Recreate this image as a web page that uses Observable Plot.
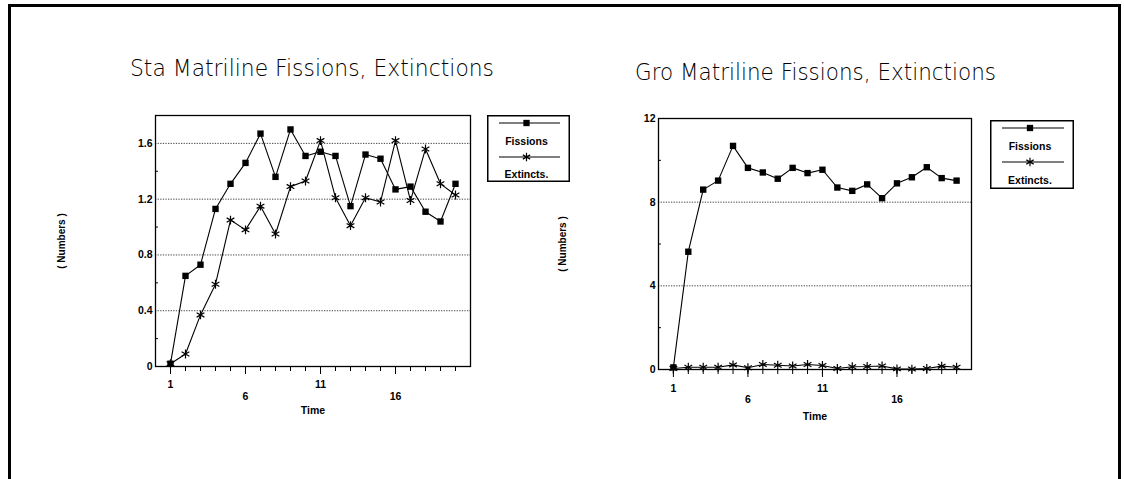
<!DOCTYPE html>
<html><head><meta charset="utf-8">
<script src="https://cdn.jsdelivr.net/npm/d3@7"></script>
<script src="https://cdn.jsdelivr.net/npm/@observablehq/plot@0.6"></script>
<style>
html,body{margin:0;padding:0;background:#fff;}
#page{position:relative;width:1124px;height:479px;overflow:hidden;background:#fff;}
#border{position:absolute;left:8px;top:4px;width:1113px;height:520px;border:3px solid #000;border-bottom:none;box-sizing:border-box;}
.abs{position:absolute;overflow:visible;}
</style></head><body>
<div id="page"><div id="border"></div></div>
<script>
// ---- data ----
const time = [1,2,3,4,5,6,7,8,9,10,11,12,13,14,15,16,17,18,19,20];
const staFissions = [0.02,0.65,0.73,1.13,1.31,1.46,1.67,1.36,1.70,1.51,1.54,1.51,1.15,1.52,1.49,1.27,1.29,1.11,1.04,1.31];
const staExtincts = [0.02,0.09,0.37,0.59,1.05,0.98,1.15,0.95,1.29,1.33,1.62,1.21,1.01,1.21,1.18,1.62,1.19,1.56,1.31,1.23];
const groFissions = [0.10,5.63,8.60,9.03,10.69,9.64,9.42,9.12,9.64,9.39,9.55,8.70,8.54,8.85,8.19,8.90,9.19,9.67,9.15,9.03];
const groExtincts = [0.05,0.11,0.11,0.11,0.22,0.08,0.24,0.20,0.17,0.24,0.19,0.05,0.13,0.14,0.17,0.03,0.02,0.05,0.16,0.11];
const seriesNames = ["Fissions","Extincts."];
const titles = ["Sta Matriline Fissions, Extinctions","Gro Matriline Fissions, Extinctions"];
const staYTicks = [0,0.4,0.8,1.2,1.6];
const staYMinor = [0.2,0.6,1.0,1.4];
const groYTicks = [0,4,8,12];
const groYMinor = [2,6,10];
const staGrid = [0.4,0.8,1.2,1.6];
const groGrid = [4,8];
const xLabelsHigh = [1,11];
const xLabelsLow = [6,16];
const yLabel = "( Numbers )";
const xLabel = "Time";

const page = document.getElementById("page");
const FONT = '"Liberation Sans Narrow","Liberation Sans",Arial,sans-serif';

function chart(o){
  const fisRows = time.map((t,i)=>({t, v:o.fis[i], s:seriesNames[0]}));
  const extRows = time.map((t,i)=>({t, v:o.ext[i], s:seriesNames[1]}));
  const p = Plot.plot({
    width: o.mL + o.innerW + 5,
    height: o.mT + o.innerH + 60,
    marginLeft: o.mL, marginRight: 5, marginTop: o.mT, marginBottom: 60,
    x: {domain:[0,21]},
    y: {domain:[0,o.yMax]},
    style: {fontFamily: FONT, fontSize: "10.5px", color:"#000", background:"transparent", overflow:"visible"},
    marks: [
      Plot.ruleY(o.grid, {stroke:"#444", strokeDasharray:"1.3,1.3", strokeWidth:1}),
      Plot.ruleY(o.yMinor, {x1:0, x2:0.2, stroke:"#000", strokeWidth:1}),
      Plot.frame({stroke:"#000", strokeWidth:1.3}),
      Plot.axisY(o.yTicks, {tickSize:0, tickPadding:3, label:null, fontWeight:"bold", tickFormat:d=>String(d)}),
      Plot.axisY([], {label:yLabel, labelAnchor:"center", labelOffset:o.numOffset, labelArrow:"none", fontWeight:"bold", fontSize:10}),
      Plot.axisX(time, {tickSize:5, tickFormat:()=>"", label:null}),
      Plot.axisX(xLabelsHigh, {tickSize:8, tickPadding:o.pad1, label:null, fontWeight:"bold"}),
      Plot.axisX(xLabelsLow, {tickSize:8, tickPadding:o.pad2, label:null, fontWeight:"bold"}),
      Plot.axisX([], {label:xLabel, labelAnchor:"center", labelOffset:o.timeOffset, labelArrow:"none", fontWeight:"bold"}),
      Plot.line(fisRows, {x:"t", y:"v", stroke:"#000", strokeWidth:1.1}),
      Plot.line(extRows, {x:"t", y:"v", stroke:"#000", strokeWidth:1.1}),
      Plot.dot(fisRows, {x:"t", y:"v", symbol:"square", fill:"#000", r:3.6}),
      Plot.dot(extRows, {x:"t", y:"v", symbol:"asterisk", stroke:"#000", strokeWidth:1.2, r:4.2})
    ]
  });
  p.classList.add("abs");
  p.style.left = o.left + "px";
  p.style.top = o.top + "px";
  page.appendChild(p);
}

chart({fis:staFissions, ext:staExtincts, yMax:1.8, grid:staGrid, yTicks:staYTicks, yMinor:staYMinor,
  left:0, top:100, mL:155, mT:15, innerW:315, innerH:251, pad1:6, pad2:18, timeOffset:47, numOffset:98});
chart({fis:groFissions, ext:groExtincts, yMax:12, grid:groGrid, yTicks:groYTicks, yMinor:groYMinor,
  left:520, top:100, mL:138, mT:18, innerW:313, innerH:251, pad1:7, pad2:18, timeOffset:50, numOffset:100});

function title(text, x, baseline, w){
  const svg = d3.select(page).append("svg").attr("class","abs")
    .style("left", x+"px").style("top", (baseline-30)+"px")
    .attr("width", w+40).attr("height", 44);
  svg.append("text").attr("x",2).attr("y",30)
    .attr("textLength", w).attr("lengthAdjust","spacingAndGlyphs")
    .attr("font-family",'"DejaVu Sans",sans-serif').attr("font-weight","200")
    .attr("font-size",23).attr("fill","#000").text(text);
}
title(titles[0], 128, 76, 364);
title(titles[1], 633, 80, 361);

function legend(x, y, w, h, rows){
  const svg = d3.select(page).append("svg").attr("class","abs")
    .style("left", x+"px").style("top", y+"px").attr("width", w).attr("height", h);
  svg.append("rect").attr("x",0.75).attr("y",0.75).attr("width",w-1.5).attr("height",h-1.5)
    .attr("fill","none").attr("stroke","#000").attr("stroke-width",1.5);
  const cx = w/2 - 2;
  const sym = [d3.symbol(d3.symbolSquare, 40)(), d3.symbol(d3.symbolAsterisk, 50)()];
  seriesNames.forEach((name,i)=>{
    const ly = rows[i*2], ty = rows[i*2+1];
    svg.append("line").attr("x1",12).attr("x2",w-10).attr("y1",ly).attr("y2",ly).attr("stroke","#000").attr("stroke-width",1.1);
    svg.append("path").attr("d", sym[i]).attr("transform",`translate(${cx},${ly})`)
      .attr("fill", i===0 ? "#000" : "none").attr("stroke", "#000").attr("stroke-width", i===0?0:1.2);
    svg.append("text").attr("x",cx).attr("y",ty).attr("text-anchor","middle").attr("dominant-baseline","middle")
      .attr("font-family",FONT).attr("font-weight","bold").attr("font-size",10.5).text(name);
  });
}
legend(487, 115, 83, 67, [8, 27, 42, 60]);
legend(990, 120, 84, 69, [8, 27, 42, 61]);
</script>
</body></html>
